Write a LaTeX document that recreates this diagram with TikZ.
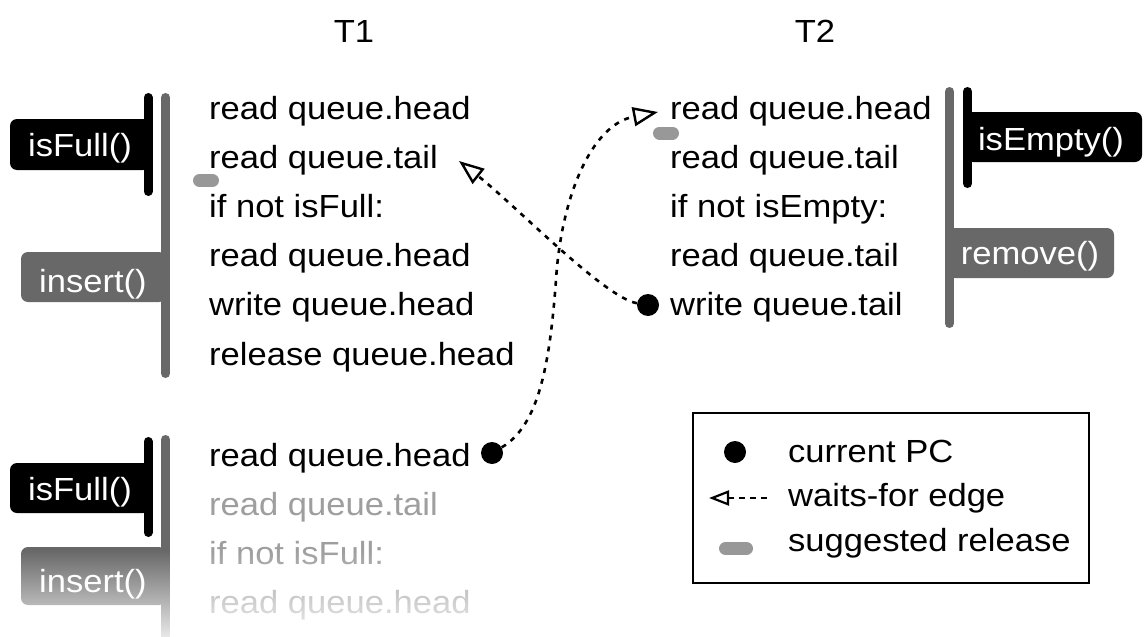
\documentclass[tikz,border=0pt]{standalone}
\usepackage{fontspec}
\setmainfont{Liberation Sans}[FakeStretch=1.08]
\usetikzlibrary{arrows.meta,fadings}

\definecolor{bargray}{RGB}{104,104,104}
\definecolor{relgray}{RGB}{152,152,152}
\definecolor{dimtext}{RGB}{158,158,158}

% white veil that thickens towards the bottom edge
\tikzfading[name=fadedown, top color=transparent!100, bottom color=transparent!0]

\begin{document}
\begin{tikzpicture}[x=1pt,y=-1pt,
  every node/.style={font=\fontsize{32}{38}\selectfont, inner sep=0pt},
  codeline/.style={anchor=base west},
  lbl/.style={anchor=base, text=white},
  thead/.style={anchor=base},
  callbar/.style={line width=9pt, line cap=round, black},
  txbar/.style={line width=9pt, line cap=round, bargray},
  callbox/.style={fill=black, rounded corners=7pt},
  bodybox/.style={fill=bargray, rounded corners=7pt},
  pc/.style={circle, fill=black, minimum size=22pt},
  relmark/.style={line width=13pt, line cap=round, relgray},
  waits/.style={line width=2.6pt, dash pattern=on 5pt off 6pt,
    -{Triangle[open, length=25pt, width=19pt, line width=2.4pt]}},
  waitskey/.style={line width=2.4pt, dash pattern=on 6pt off 5pt,
    -{Triangle[open, length=20pt, width=15pt, line width=2.2pt]}},
]
\useasboundingbox (0,0) rectangle (1144,637);

% thread headers
\node[thead] (t1) at (354,42) {T1};
\node[thead] (t2) at (815,42) {T2};

% ---------- T1, first attempt ----------
\path[callbox] (10,119) rectangle (150,170);
\path[bodybox] (21,252) rectangle (166,302);
\draw[callbar] (148,97.5) -- (148,191.5);
\draw[txbar] (165.5,97.5) -- (165.5,373.5);
\node[lbl] (fullA) at (80,156) {isFull()};
\node[lbl] (insA) at (93,292) {insert()};

\node[codeline] (a1) at (209,119) {read queue.head};
\node[codeline] (a2) at (209,168.2) {read queue.tail};
\node[codeline] (a3) at (209,217.4) {if not isFull:};
\node[codeline] (a4) at (209,266.6) {read queue.head};
\node[codeline] (a5) at (209,315.8) {write queue.head};
\node[codeline] (a6) at (209,365) {release queue.head};
\draw[relmark] (199.5,180.5) -- (212.5,180.5);

% ---------- T1, retried ----------
\path[callbox] (10,463) rectangle (150,513);
\path[bodybox] (21,547) rectangle (166,605);
\draw[callbar] (148,441.5) -- (148,532.5);
\draw[txbar] (165.5,439.5) -- (165.5,637);
\node[lbl] (fullB) at (80,500) {isFull()};
\node[lbl] (insB) at (93,592) {insert()};

\node[codeline] (b1) at (209,466) {read queue.head};
\node[codeline, text=dimtext] (b2) at (209,515.2) {read queue.tail};
\node[codeline, text=dimtext] (b3) at (209,564.4) {if not isFull:};
\node[codeline, text=dimtext] (b4) at (209,613.6) {read queue.head};
\path[fill=white, path fading=fadedown] (0,550) rectangle (540,652);

% ---------- T2 ----------
\path[callbox] (966,112) rectangle (1142,162);
\path[bodybox] (948,228) rectangle (1114,278);
\draw[txbar] (949.5,91.5) -- (949.5,323.5);
\draw[callbar] (967.5,91.5) -- (967.5,183.5);
\node[lbl] (emptyT2) at (1051,150) {isEmpty()};
\node[lbl] (remT2) at (1030,264) {remove()};

\node[codeline] (c1) at (670,119) {read queue.head};
\node[codeline] (c2) at (670,168.2) {read queue.tail};
\node[codeline] (c3) at (670,217.4) {if not isEmpty:};
\node[codeline] (c4) at (670,266.6) {read queue.tail};
\node[codeline] (c5) at (670,315.8) {write queue.tail};
\draw[relmark] (659.5,133) -- (672.5,133);

% ---------- current program counters and waits-for edges ----------
\node[pc] (pcB) at (492,453) {};
\node[pc] (pcT2) at (648,305) {};
\coordinate (tipA) at (459,161);
\coordinate (tipB) at (658,112);

\draw[waits] (pcT2) .. controls (605,298) and (515,205) .. (tipA);
\draw[waits] (pcB) .. controls (540,425) and (550,360) .. (556,280)
                   .. controls (561,200) and (590,125) .. (tipB);

% ---------- legend ----------
\node[draw, line width=2pt, minimum width=396pt, minimum height=170pt] (legend) at (891,498) {};
\node[pc] (keydot) at (735,452) {};
\node[codeline] (key1) at (788,462) {current PC};
\coordinate (keytail) at (767,498);
\coordinate (keytip) at (709,498);
\draw[waitskey] (keytail) -- (keytip);
\node[codeline] (key2) at (788,506) {waits-for edge};
\draw[relmark] (725.5,548.5) -- (746.5,548.5);
\node[codeline] (key3) at (788,551) {suggested release};
\end{tikzpicture}
\end{document}
